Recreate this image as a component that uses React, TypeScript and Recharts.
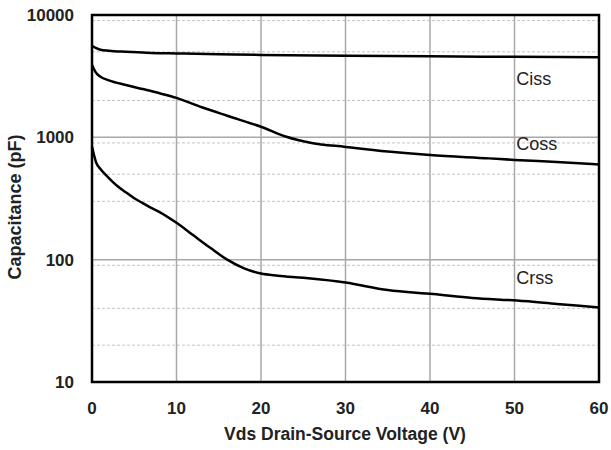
import { CartesianGrid, Line, LineChart, ReferenceArea, ReferenceDot, XAxis, YAxis } from "recharts"

const font = "'Liberation Sans', Arial, sans-serif"

// (V, pF)
const cissVolts = [0, 0.5, 1, 2, 4, 7, 10, 15, 20, 30, 40, 50, 60]
const cissPf = [5600, 5350, 5200, 5100, 5000, 4900, 4850, 4780, 4720, 4650, 4600, 4550, 4520]

const cossVolts = [0, 0.5, 1, 2, 4, 6, 8, 10, 13, 16, 20, 23, 26, 30, 35, 40, 47, 50, 55, 60]
const cossPf = [3900, 3350, 3130, 2920, 2680, 2480, 2290, 2100, 1760, 1500, 1220, 1010, 900, 835, 765, 716, 673, 654, 628, 600]

const crssVolts = [0, 0.5, 1, 2, 3, 4, 5, 6, 7, 8, 10, 12, 14, 16, 18, 20, 22, 25, 30, 35, 40.4, 45, 50.3, 55, 60]
const crssPf = [840, 620, 550, 465, 400, 355, 318, 290, 265, 245, 200, 158, 125, 100, 85, 77, 74, 71, 65, 56.4, 52.4, 48.7, 46.3, 43.5, 40.7]

const xTicks = [0, 10, 20, 30, 40, 50, 60]
const yTicks = [10, 100, 1000, 10000]
const majorY = [100, 1000]
const majorX = [10, 20, 30, 40, 50]
const minorY = [20, 40, 70, 80, 90, 300, 400, 500, 600, 700, 900, 2000, 4000, 5000, 6000, 7000, 8000, 9000]

const curveNames = ["Ciss", "Coss", "Crss"]
const labelVolts = [50.2, 50.2, 50.2]
const labelPf = [3000, 890, 70.7]

const toPoints = (volts: number[], pf: number[]) => volts.map((v, i) => ({ v, c: pf[i] }))

const cissData = toPoints(cissVolts, cissPf)
const cossData = toPoints(cossVolts, cossPf)
const crssData = toPoints(crssVolts, crssPf)

const YLabel = () => (
  <text
    x={15}
    y={207}
    transform="rotate(-90 15 207)"
    textAnchor="middle"
    dominantBaseline="central"
    fontFamily={font}
    fontWeight="bold"
    fontSize={18}
    fill="#222"
  >
    Capacitance (pF)
  </text>
)

const XLabel = () => (
  <text
    x={345}
    y={434}
    textAnchor="middle"
    dominantBaseline="central"
    fontFamily={font}
    fontWeight="bold"
    fontSize={17.5}
    fill="#222"
  >
    Vds Drain-Source Voltage (V)
  </text>
)

const tickStyle = { fontFamily: font, fontWeight: "bold", fontSize: 17, fill: "#222" }

const App = () => {
  return (
    <div style={{ position: "absolute", left: 0, top: 0, background: "#fff" }}>
      <LineChart width={611} height={450} margin={{ top: 15, right: 12, bottom: 0, left: 0 }}>
        <CartesianGrid
          vertical={false}
          horizontalValues={minorY}
          stroke="#c4c4c4"
          strokeDasharray="3 2"
        />
        <CartesianGrid verticalValues={majorX} horizontalValues={majorY} stroke="#a8a8a8" strokeWidth={1.5} />
        <XAxis
          dataKey="v"
          type="number"
          domain={[0, 60]}
          ticks={xTicks}
          height={68}
          axisLine={false}
          tickLine={false}
          tickSize={0}
          tickMargin={20}
          tick={tickStyle}
          allowDuplicatedCategory={false}
          label={<XLabel />}
        />
        <YAxis
          dataKey="c"
          scale="log"
          domain={[10, 10000]}
          ticks={yTicks}
          allowDataOverflow
          width={92}
          axisLine={false}
          tickLine={false}
          tickSize={0}
          tickMargin={18}
          tick={tickStyle}
          label={<YLabel />}
        />
        <Line data={cissData} dataKey="c" type="monotone" stroke="#000" strokeWidth={2.5} dot={false} isAnimationActive={false} />
        <Line data={cossData} dataKey="c" type="monotone" stroke="#000" strokeWidth={2.5} dot={false} isAnimationActive={false} />
        <Line data={crssData} dataKey="c" type="monotone" stroke="#000" strokeWidth={2.5} dot={false} isAnimationActive={false} />
        {curveNames.map((name, i) => (
          <ReferenceDot
            key={name}
            x={labelVolts[i]}
            y={labelPf[i]}
            r={0}
            fill="none"
            stroke="none"
            label={{ value: name, position: "right", offset: 0, fontFamily: font, fontSize: 18, fill: "#222" }}
          />
        ))}
        <ReferenceArea x1={0} x2={60} y1={10} y2={10000} fill="none" stroke="#000" strokeWidth={2.5} />
      </LineChart>
    </div>
  )
}

export default App
